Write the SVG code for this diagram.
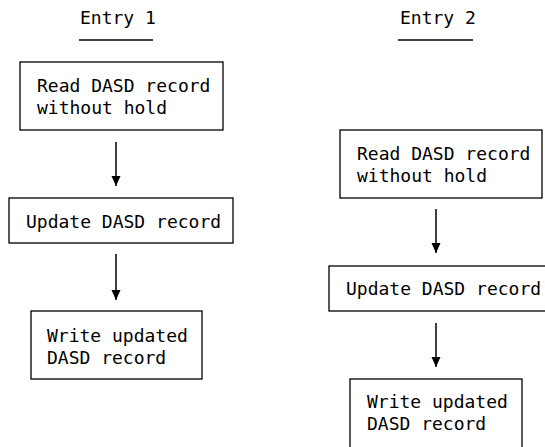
<svg xmlns="http://www.w3.org/2000/svg" width="545" height="447" viewBox="0 0 545 447">
<style>
text{font-family:"DejaVu Sans Mono","Liberation Mono",monospace;font-size:18px;fill:#000}
.box{fill:#fff;stroke:#000;stroke-width:1.3}
.rule{stroke:#000;stroke-width:1.3}
.conn{stroke:#000;stroke-width:1.5;fill:none;marker-end:url(#ah)}
</style>
<defs>
<marker id="ah" markerUnits="userSpaceOnUse" markerWidth="11" markerHeight="10" refX="10" refY="5" orient="auto" viewBox="0 0 11 10">
<path d="M0,0.5 L10,5 L0,9.5 Z" fill="#000"/>
</marker>
</defs>
<rect width="545" height="447" fill="#fff"/>
<g id="entry1">
<text x="80" y="24">Entry 1</text>
<line class="rule" x1="79" y1="40" x2="153" y2="40"/>
</g>
<g id="entry2">
<text x="400" y="24">Entry 2</text>
<line class="rule" x1="398" y1="40" x2="473" y2="40"/>
</g>
<g id="l-read">
<rect class="box" x="20" y="62" width="203" height="68"/>
<text x="37" y="92">Read DASD record</text>
<text x="37" y="114">without hold</text>
</g>
<g id="l-update">
<rect class="box" x="9" y="198" width="224" height="45"/>
<text x="26" y="228">Update DASD record</text>
</g>
<g id="l-write">
<rect class="box" x="31" y="311" width="171" height="68"/>
<text x="47" y="342">Write updated</text>
<text x="47" y="364">DASD record</text>
</g>
<g id="r-read">
<rect class="box" x="340" y="130" width="202" height="68"/>
<text x="357" y="160">Read DASD record</text>
<text x="357" y="182">without hold</text>
</g>
<g id="r-update">
<rect class="box" x="329" y="266" width="222" height="45"/>
<text x="346" y="295">Update DASD record</text>
</g>
<g id="r-write">
<rect class="box" x="350" y="379" width="172" height="80"/>
<text x="367" y="408">Write updated</text>
<text x="367" y="430">DASD record</text>
</g>
<g id="connectors">
<line class="conn" x1="116" y1="142" x2="116" y2="186"/>
<line class="conn" x1="116" y1="254" x2="116" y2="300"/>
<line class="conn" x1="436" y1="209" x2="436" y2="253"/>
<line class="conn" x1="436" y1="323" x2="436" y2="367"/>
</g>
</svg>
